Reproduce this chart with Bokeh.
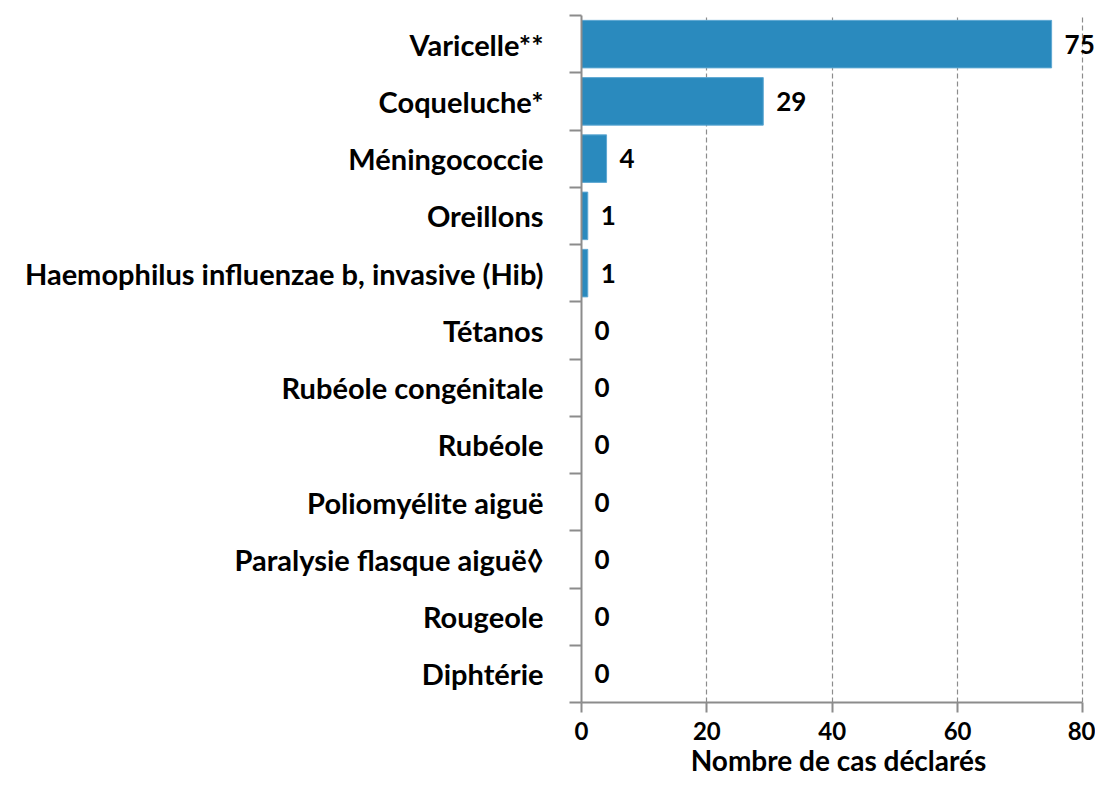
from bokeh.plotting import figure
from bokeh.models import ColumnDataSource, Range1d, FixedTicker, LabelSet
from bokeh.core.properties import value
from bokeh.embed import file_html
from bokeh.resources import INLINE

categories = ["Varicelle**", "Coqueluche*", "Méningococcie", "Oreillons",
              "Haemophilus influenzae b, invasive (Hib)", "Tétanos",
              "Rubéole congénitale", "Rubéole", "Poliomyélite aiguë",
              "Paralysie flasque aiguë\u25CA", "Rougeole", "Diphtérie"]
values = [75, 29, 4, 1, 1, 0, 0, 0, 0, 0, 0, 0]
x_ticks = [0, 20, 40, 60, 80]

n = len(categories)
ypos = [n - 1 - i for i in range(n)]
src = ColumnDataSource(dict(y=ypos, v=values, lab=[str(v) for v in values], cat=categories))

FONT = "Lato"
p = figure(width=1095, height=779, output_backend="svg", toolbar_location=None,
           x_range=Range1d(0, 82), y_range=Range1d(-0.5, n - 0.5),
           min_border_left=581, min_border_right=0, min_border_top=15, min_border_bottom=76)
p.outline_line_color = None
p.background_fill_color = "white"

p.hbar(y="y", right="v", left=0, height=0.83, source=src,
       fill_color="#2A8ABE", line_color="#5FA8D3", line_width=1)

labels = LabelSet(x="v", y="y", text="lab", source=src, x_offset=13,
                  text_baseline="middle", text_align="left",
                  text_font=value(FONT), text_font_style="bold", text_font_size="26px",
                  text_color="black")
p.add_layout(labels)

# x axis
xa = p.xaxis[0]
xa.ticker = FixedTicker(ticks=x_ticks)
xa.bounds = (0, 80)
xa.axis_line_color = "#8C8C8C"
xa.axis_line_width = 2
xa.major_tick_line_color = "#8C8C8C"
xa.major_tick_line_width = 2
xa.major_tick_out = 10
xa.major_tick_in = 0
xa.minor_tick_line_color = None
xa.major_label_text_font = FONT
xa.major_label_text_font_style = "bold"
xa.major_label_text_font_size = "24px"
xa.major_label_text_color = "black"
xa.major_label_standoff = 9
xa.axis_label = "Nombre de cas déclarés"
xa.axis_label_text_font = FONT
xa.axis_label_text_font_style = "bold"
xa.axis_label_text_font_size = "28px"
xa.axis_label_text_color = "black"
xa.axis_label_standoff = 0

# y axis
ya = p.yaxis[0]
ya.ticker = FixedTicker(ticks=ypos, minor_ticks=[i - 0.5 for i in range(n + 1)])
ya.major_label_overrides = {yy: c for yy, c in zip(ypos, categories)}
ya.axis_line_color = "#8C8C8C"
ya.axis_line_width = 2
ya.major_tick_line_color = None
ya.major_tick_out = 0
ya.major_tick_in = 0
ya.minor_tick_line_color = "#8C8C8C"
ya.minor_tick_line_width = 2
ya.minor_tick_out = 12
ya.minor_tick_in = 0
ya.major_label_text_font = FONT
ya.major_label_text_font_style = "bold"
ya.major_label_text_font_size = "29px"
ya.major_label_text_color = "black"
ya.major_label_standoff = 26

p.xgrid.ticker = FixedTicker(ticks=[20, 40, 60, 80])
p.xgrid.bounds = (0, 80)
p.xgrid.grid_line_color = "#8C8C8C"
p.xgrid.grid_line_dash = "5 3"
p.xgrid.grid_line_width = 1.2
p.ygrid.grid_line_color = None

open("out.html", "w").write(file_html(p, INLINE))
